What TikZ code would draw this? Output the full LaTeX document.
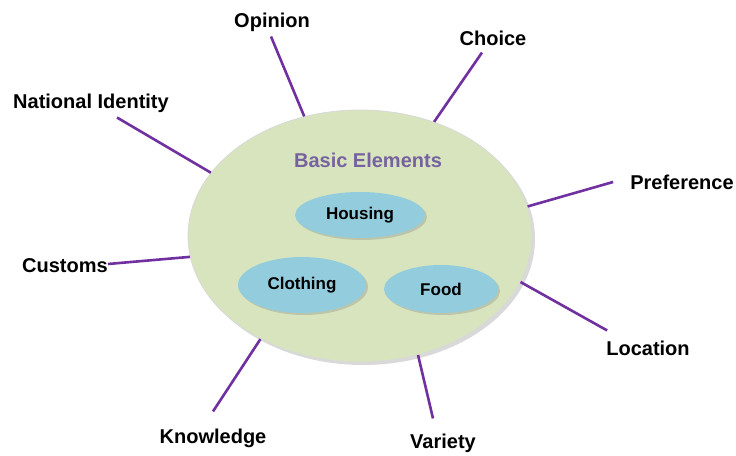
\documentclass[tikz,border=0pt]{standalone}
\usepackage{fontspec}
\setmainfont{Liberation Sans}
\usetikzlibrary{shapes.geometric,shadows}

\definecolor{elemgreen}{HTML}{D7E4BD}
\definecolor{elemblue}{HTML}{93CDDD}
\definecolor{spokepurple}{HTML}{7030A0}
\definecolor{titlepurple}{HTML}{7762A0}

\tikzset{
  spoke/.style={draw=spokepurple, line width=2.6pt},
  factor/.style={font=\fontsize{20}{22}\selectfont\bfseries, inner sep=2pt},
  need/.style={ellipse, fill=elemblue, inner sep=0pt,
    font=\fontsize{17}{19}\selectfont\bfseries,
    drop shadow={shadow xshift=2pt, shadow yshift=-2pt, opacity=0.3}},
}

\begin{document}
\begin{tikzpicture}[x=1pt, y=1pt]
    \useasboundingbox (0,0) rectangle (736,455);

    % the big circle and what it holds
    \node[ellipse, fill=elemgreen, draw=black!15, line width=0.8pt,
        minimum width=344pt, minimum height=252pt,
        drop shadow={shadow xshift=3pt, shadow yshift=-3pt, opacity=0.3}] (basic) at (360,219) {};
    \node[font=\fontsize{20}{22}\selectfont\bfseries, text=titlepurple] (title) at (368,295) {Basic Elements};
    \node[need, minimum width=130pt, minimum height=46pt] (housing) at (360,240) {Housing};
    \node[need, minimum width=128pt, minimum height=56pt] (clothing) at (302,170) {Clothing};
    \node[need, minimum width=114pt, minimum height=48pt] (food) at (441,166) {Food};

    % factors round it
    \node[factor] (opinion) at (272,433) {Opinion};
    \node[factor] (national) at (91,352) {National Identity};
    \node[factor] (choice) at (493,417) {Choice};
    \node[factor] (preference) at (682,273) {Preference};
    \node[factor] (customs) at (65,189) {Customs};
    \node[factor] (knowledge) at (213,17) {Knowledge};
    \node[factor] (location) at (648,107) {Location};
    \node[factor] (variety) at (443,12) {Variety};

    \draw[spoke] ([xshift=-1pt,yshift=-3pt]opinion.south) -- (basic.115);
    \draw[spoke] ([xshift=26pt,yshift=-3pt]national.south) -- (basic.157);
    \draw[spoke] ([xshift=-11pt,yshift=-5pt]choice.south) -- (basic.57);
    \draw[spoke] ([xshift=-15pt]preference.west) -- (basic.10);
    \draw[spoke] ([xshift=-2pt,yshift=2pt]customs.east) -- (basic.187);
    \draw[spoke] ([yshift=15pt]knowledge.north) -- (basic.226);
    \draw[spoke] ([xshift=3pt,yshift=8pt]location.north west) -- (basic.-16);
    \draw[spoke] ([xshift=-10pt,yshift=13pt]variety.north) -- (basic.-64);
\end{tikzpicture}
\end{document}
